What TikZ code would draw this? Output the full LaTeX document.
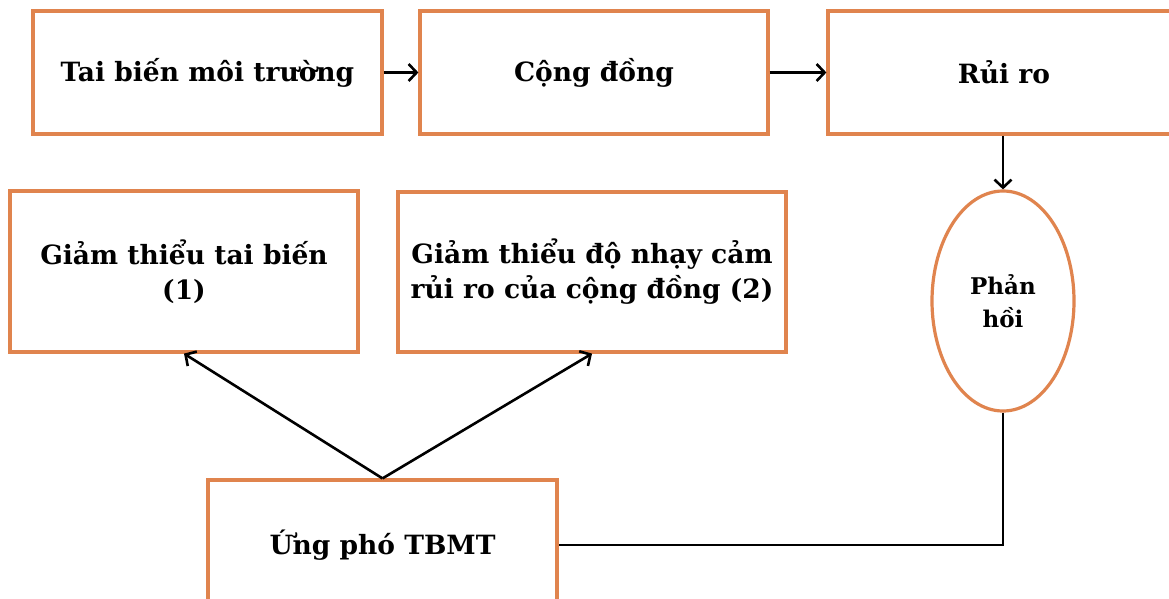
\documentclass[tikz,border=0pt]{standalone}
\usepackage{fontspec}
\setmainfont{DejaVu Serif}
\usetikzlibrary{arrows.meta,shapes.geometric}
\definecolor{boxorange}{RGB}{224,132,78}
\tikzset{
  box/.style={draw=boxorange,line width=3.2pt,fill=white,inner sep=0pt,align=center,
    font=\fontsize{26.5}{35}\selectfont\bfseries},
  conn/.style={draw=black,line width=2.6pt,-{Straight Barb[length=8pt,width=17pt,line width=2.6pt]}},
  plain/.style={draw=black,line width=2.6pt}
}
\begin{document}
\begin{tikzpicture}[x=1pt,y=-1pt]
\useasboundingbox (0,0) rectangle (1169,598);
\clip (0,0) rectangle (1169,598);
\fill[white] (0,0) rectangle (1169,598);
\node[box,minimum width=349pt,minimum height=123pt] (b1) at (207.5,72.5) {Tai biến môi trường};
\node[box,minimum width=348pt,minimum height=123pt] (b2) at (594,72.5) {Cộng đồng};
\node[box,minimum width=352pt,minimum height=123pt] (b3) at (1004,72.5) {Rủi ro};
\node[box,minimum width=348pt,minimum height=161pt] (b4) at (184,271.5) {Giảm thiểu tai biến\\(1)};
\node[box,minimum width=388pt,minimum height=160pt] (b5) at (592,272) {Giảm thiểu độ nhạy cảm\\rủi ro của cộng đồng (2)};
\node[box,ellipse,minimum width=142pt,minimum height=220pt,font=\fontsize{23}{33}\selectfont\bfseries] (fb) at (1003,301) {Phản\\hồi};
\node[box,minimum width=349pt,minimum height=130pt] (b6) at (382.5,545) {Ứng phó TBMT};
\draw[conn] (b1.east) -- (b2.west);
\draw[conn] (b2.east) -- (b3.west);
\draw[conn] (b3.south -| fb.north) -- (fb.north);
\draw[conn] (b6.north) -- (b4.south);
\draw[conn] (b6.north) -- (b5.south);
\draw[plain] (fb.south) |- (b6.east);
\end{tikzpicture}
\end{document}
